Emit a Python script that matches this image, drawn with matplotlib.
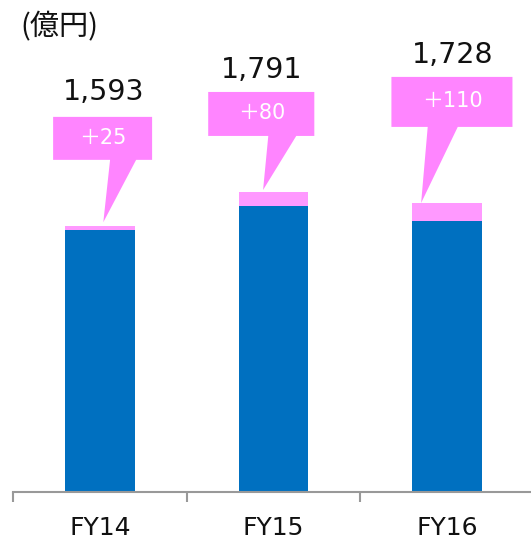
import matplotlib
matplotlib.use("Agg")
from matplotlib import pyplot as plt
from matplotlib.patches import Polygon

years = ["FY14", "FY15", "FY16"]
totals = [1593, 1791, 1728]
increase = [25, 80, 110]
base = [t - d for t, d in zip(totals, increase)]
incr_labels = ["＋25", "＋80", "＋110"]
unit = "(億円)"

# callout layout per bar, offsets from bar center (x) and from bar total (y)
box_x = [(-0.269, 0.301), (-0.376, 0.235), (-0.321, 0.376)]
box_y = [(393, 650), (338, 601), (455, 754)]
tail_x = [(0.059, 0.209), (-0.030, 0.131), (-0.112, 0.061)]
tip = [(0.02, 20), (-0.06, 15), (-0.15, 0)]
total_pos = [(0.02, 796), (-0.07, 733), (0.03, 887)]

blue = "#0070C0"
pink_bar = "#FF99FF"
pink_box = "#FF85FF"

fig = plt.figure(figsize=(5.31, 5.4), dpi=100)
ax = fig.add_axes([13 / 531, 48 / 540, 521 / 531, 485 / 540])

x = range(len(years))
ax.bar(x, base, width=0.4, color=blue, zorder=2)
ax.bar(x, increase, bottom=base, width=0.4, color=pink_bar, zorder=2)

for i, t in enumerate(totals):
    bx0, bx1 = i + box_x[i][0], i + box_x[i][1]
    by0, by1 = t + box_y[i][0], t + box_y[i][1]
    tx0, tx1 = i + tail_x[i][0], i + tail_x[i][1]
    px, py = i + tip[i][0], t + tip[i][1]
    pts = [(bx0, by1), (bx1, by1), (bx1, by0), (tx1, by0), (px, py),
           (tx0, by0), (bx0, by0)]
    ax.add_patch(Polygon(pts, closed=True, facecolor=pink_box,
                         edgecolor="none", zorder=3))
    ax.text((bx0 + bx1) / 2, (by0 + by1) / 2 + 5, incr_labels[i],
            ha="center", va="center", color="white", fontsize=15,
            family=["DejaVu Sans", "Noto Sans CJK JP"], zorder=4)
    ax.text(i + total_pos[i][0], t + total_pos[i][1], f"{t:,}",
            ha="center", va="center", fontsize=20.5, color="#111111")

ax.set_xlim(-0.5, 2.5)
ax.set_ylim(0, 2900)
for s in ["top", "right", "left"]:
    ax.spines[s].set_visible(False)
ax.spines["bottom"].set_color("#999999")
ax.spines["bottom"].set_linewidth(1.5)
ax.set_yticks([])
ax.set_xticks([-0.5, 0.5, 1.5, 2.5])
ax.set_xticklabels([])
ax.tick_params(axis="x", which="major", length=7, width=1.5, color="#999999")
ax.set_xticks(list(x), minor=True)
ax.set_xticklabels(years, minor=True, fontsize=18, color="#111111")
ax.tick_params(axis="x", which="minor", length=0, pad=17)

fig.text(20 / 531, 1 - 27 / 540, unit, ha="left", va="center", fontsize=21,
         family=["Noto Sans CJK JP", "DejaVu Sans"], color="#111111")

fig.savefig("out.png", dpi=100)
